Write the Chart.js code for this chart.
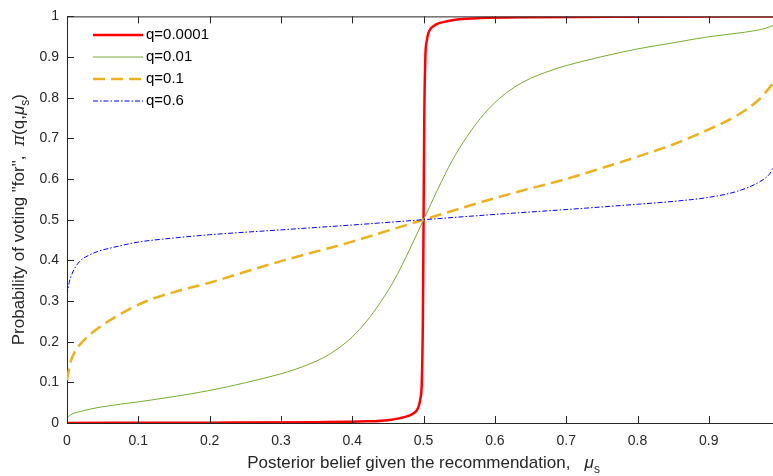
<!DOCTYPE html>
<html lang="en">
<head>
  <meta charset="UTF-8">
  <title>Probability of voting for</title>
  <script src="https://cdn.jsdelivr.net/npm/chart.js"></script>
  <style>
    html, body { margin: 0; padding: 0; background: #fff; }
    #wrap { width: 773px; height: 476px; }
  </style>
</head>
<body>
  <div id="wrap"><canvas id="votingChart"></canvas></div>

  <script>
    // values
    const xTicks = [0, 0.1, 0.2, 0.3, 0.4, 0.5, 0.6, 0.7, 0.8, 0.9];
    const yTicks = [0, 0.1, 0.2, 0.3, 0.4, 0.5, 0.6, 0.7, 0.8, 0.9, 1];

    const labels = ['q=0.0001', 'q=0.01', 'q=0.1', 'q=0.6'];

    const muRed = [0, 0.2, 0.35, 0.42, 0.45, 0.467, 0.48, 0.486, 0.49, 0.493, 0.4955, 0.4975, 0.499, 0.5,
                   0.501, 0.5025, 0.5045, 0.507, 0.51, 0.514, 0.52, 0.533, 0.55, 0.58, 0.65, 0.8, 0.99];
    const piRed = [0.0003, 0.0008, 0.002, 0.004, 0.007, 0.012, 0.018, 0.024, 0.03, 0.04, 0.06, 0.1, 0.25, 0.5,
                   0.75, 0.9, 0.94, 0.96, 0.97, 0.976, 0.982, 0.988, 0.993, 0.996, 0.998, 0.9992, 0.9997];

    const muGreen = [0, 0.005, 0.02, 0.05, 0.1, 0.15, 0.2, 0.25, 0.3, 0.32, 0.34, 0.36, 0.38, 0.4, 0.42, 0.44,
                     0.46, 0.48, 0.5, 0.52, 0.54, 0.56, 0.58, 0.6, 0.62, 0.64, 0.66, 0.68, 0.7, 0.75, 0.8,
                     0.85, 0.9, 0.95, 0.98, 0.99];
    const piGreen = [0.012, 0.02, 0.029, 0.04, 0.052, 0.065, 0.08, 0.099, 0.121, 0.132, 0.145, 0.161, 0.183,
                     0.212, 0.25, 0.298, 0.355, 0.425, 0.5, 0.575, 0.645, 0.702, 0.75, 0.788, 0.817, 0.839,
                     0.855, 0.868, 0.879, 0.901, 0.92, 0.935, 0.95, 0.961, 0.971, 0.978];

    const muOrange = [0, 0.002, 0.005, 0.01, 0.023, 0.042, 0.074, 0.112, 0.15, 0.2, 0.25, 0.3, 0.35, 0.4,
                      0.45, 0.5, 0.55, 0.6, 0.65, 0.7, 0.75, 0.8, 0.85, 0.9, 0.94, 0.97, 0.99];
    const piOrange = [0.105, 0.125, 0.15, 0.172, 0.202, 0.231, 0.267, 0.30, 0.322, 0.345, 0.372, 0.398,
                      0.422, 0.446, 0.473, 0.5, 0.527, 0.553, 0.577, 0.6, 0.627, 0.655, 0.685, 0.722,
                      0.757, 0.795, 0.835];

    const muBlue = [0, 0.001, 0.003, 0.006, 0.01, 0.018, 0.03, 0.045, 0.06, 0.08, 0.1, 0.15, 0.2, 0.3, 0.4,
                    0.5, 0.6, 0.7, 0.8, 0.85, 0.9, 0.94, 0.97, 0.985, 0.99];
    const piBlue = [0.315, 0.326, 0.345, 0.362, 0.378, 0.398, 0.412, 0.423, 0.43, 0.438, 0.445, 0.455, 0.463,
                    0.475, 0.487, 0.5, 0.513, 0.525, 0.538, 0.545, 0.555, 0.57, 0.592, 0.612, 0.627];

    function pts(xs, ys) {
      return xs.map((x, i) => ({ x: x, y: ys[i] }));
    }

    const FONT = '"Liberation Sans", Arial, Helvetica, sans-serif';
    const AXIS = '#262626';

    // text pieces [text, font, dy] laid out one after another
    function runWidth(c, parts) {
      let w = 0;
      parts.forEach(p => { c.font = p[1]; w += c.measureText(p[0]).width; });
      return w;
    }
    function drawRun(c, parts, x, y) {
      parts.forEach(p => {
        c.font = p[1];
        c.fillText(p[0], x, y + p[2]);
        x += c.measureText(p[0]).width;
      });
    }

    // inward ticks, top box line, legend, axis titles
    const matlabLook = {
      id: 'matlabLook',
      afterDraw(chart) {
        const c = chart.ctx;
        const a = chart.chartArea;
        const xs = chart.scales.x, ys = chart.scales.y;
        c.save();
        c.strokeStyle = AXIS;
        c.lineWidth = 1;
        c.beginPath();
        c.moveTo(a.left, a.top + 0.5);
        c.lineTo(a.right, a.top + 0.5);
        xTicks.forEach(v => {
          const px = Math.round(xs.getPixelForValue(v)) + 0.5;
          c.moveTo(px, a.bottom); c.lineTo(px, a.bottom - 7);
          c.moveTo(px, a.top); c.lineTo(px, a.top + 7);
        });
        yTicks.forEach(v => {
          const py = Math.round(ys.getPixelForValue(v)) + 0.5;
          c.moveTo(a.left, py); c.lineTo(a.left + 7, py);
        });
        c.stroke();

        // legend
        const rows = [35, 57, 79, 101];
        c.font = '15px ' + FONT;
        c.textBaseline = 'middle';
        c.textAlign = 'left';
        chart.data.datasets.forEach((ds, i) => {
          c.strokeStyle = ds.borderColor;
          c.lineWidth = ds.borderWidth;
          c.setLineDash(ds.borderDash || []);
          c.beginPath();
          c.moveTo(93, rows[i]);
          c.lineTo(143, rows[i]);
          c.stroke();
          c.setLineDash([]);
          c.fillStyle = '#000';
          c.fillText(ds.label, 146, rows[i]);
        });

        c.fillStyle = AXIS;
        c.textBaseline = 'alphabetic';
        const sans = '17px ' + FONT;
        const greek = 'italic 17px ' + FONT;
        const sub = '12px ' + FONT;

        // x title, centred on the middle of the axis
        const xParts = [
          ['Posterior belief given the recommendation,   ', sans, 0],
          ['\u03bc', greek, 0],
          ['s', sub, 5]
        ];
        const xc = xs.getPixelForValue(0.5);
        const xw = runWidth(c, xParts);
        drawRun(c, xParts, xc - xw / 2, 468);

        // y title (rotated)
        c.save();
        c.translate(24, (a.top + a.bottom) / 2);
        c.rotate(-Math.PI / 2);
        const yParts = [
          ['Probability of voting "for",  ', sans, 0],
          ['\u03c0', 'italic 17px "DejaVu Serif", serif', 0],
          ['(q,', sans, 0],
          ['\u03bc', greek, 0],
          ['s', sub, 5],
          [')', sans, 0]
        ];
        const yw = runWidth(c, yParts);
        drawRun(c, yParts, -yw / 2, 0);
        c.restore();
        c.restore();
      }
    };

    const ctx = document.getElementById('votingChart').getContext('2d');
    const chart = new Chart(ctx, {
      type: 'line',
      data: {
        datasets: [
          { label: labels[0], data: pts(muRed, piRed), borderColor: '#ff0000', borderWidth: 2.5, order: 4 },
          { label: labels[1], data: pts(muGreen, piGreen), borderColor: '#77ac30', borderWidth: 1, order: 3 },
          { label: labels[2], data: pts(muOrange, piOrange), borderColor: '#edb120', borderWidth: 2.5,
            borderDash: [12, 6], order: 2 },
          { label: labels[3], data: pts(muBlue, piBlue), borderColor: '#0000ff', borderWidth: 1,
            borderDash: [5, 2, 1.5, 2], order: 1 }
        ]
      },
      options: {
        responsive: true,
        maintainAspectRatio: false,
        animation: false,
        layout: { padding: { top: 13, right: 0, left: 0, bottom: 0 } },
        elements: {
          point: { radius: 0 },
          line: { cubicInterpolationMode: 'monotone', fill: false }
        },
        plugins: {
          legend: { display: false },
          tooltip: { enabled: false }
        },
        scales: {
          x: {
            type: 'linear',
            min: 0,
            max: 0.99,
            grid: { display: false, drawTicks: false },
            border: { display: true, color: AXIS, width: 1 },
            afterBuildTicks: s => { s.ticks = xTicks.map(v => ({ value: v })); },
            afterFit: s => { s.height = 53; },
            ticks: {
              color: AXIS,
              padding: 10,
              maxRotation: 0,
              font: { family: FONT, size: 14 },
              callback: v => String(v)
            }
          },
          y: {
            type: 'linear',
            min: 0,
            max: 1,
            grid: { display: false, drawTicks: false },
            border: { display: true, color: AXIS, width: 1 },
            afterBuildTicks: s => { s.ticks = yTicks.map(v => ({ value: v })); },
            afterFit: s => { s.width = 67; },
            ticks: {
              color: AXIS,
              padding: 8,
              font: { family: FONT, size: 14 },
              callback: v => String(v)
            }
          }
        }
      },
      plugins: [matlabLook]
    });
  </script>
</body>
</html>
